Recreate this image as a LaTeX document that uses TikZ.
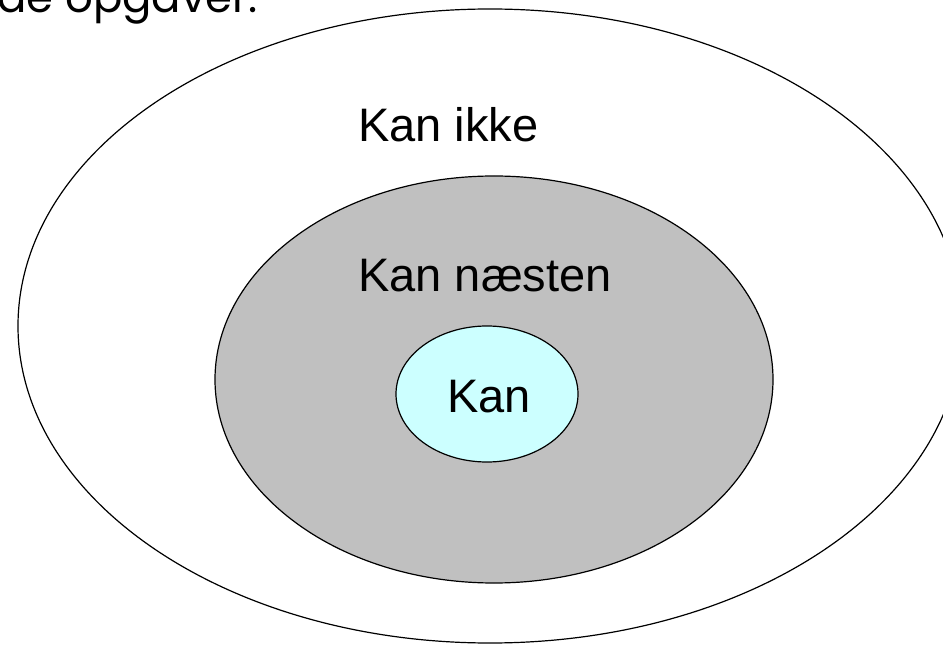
\documentclass[tikz,border=0pt]{standalone}
\usepackage{fontspec}
\setmainfont{Liberation Sans}
\newfontfamily\topfont{Poppins}
\definecolor{midgray}{HTML}{C0C0C0}
\definecolor{palecyan}{HTML}{CCFFFF}
\begin{document}
\begin{tikzpicture}[x=0.75pt,y=-0.75pt,
  ring/.style={draw=black,line width=0.9pt},
  lbl/.style={anchor=base west,inner sep=0pt,font=\fontsize{35.25pt}{40pt}\selectfont}]
\useasboundingbox (0,0) rectangle (943,645);
\clip (0,0) rectangle (943,645);
\draw[ring,fill=white] (490,326) ellipse [x radius=472, y radius=317];
\draw[ring,fill=midgray] (494,379.5) ellipse [x radius=279, y radius=203.5];
\draw[ring,fill=palecyan] (487,394) ellipse [x radius=91, y radius=68];
\node[lbl] (kanikke) at (358,142) {Kan ikke};
\node[lbl] (kannaesten) at (358,292) {Kan næsten};
\node[lbl] (kan) at (447,412) {Kan};
\node[anchor=base west,inner sep=0pt,font=\topfont\fontsize{32.6pt}{36pt}\selectfont] (top) at (-3,13) {de opgaver:};
\end{tikzpicture}
\end{document}
